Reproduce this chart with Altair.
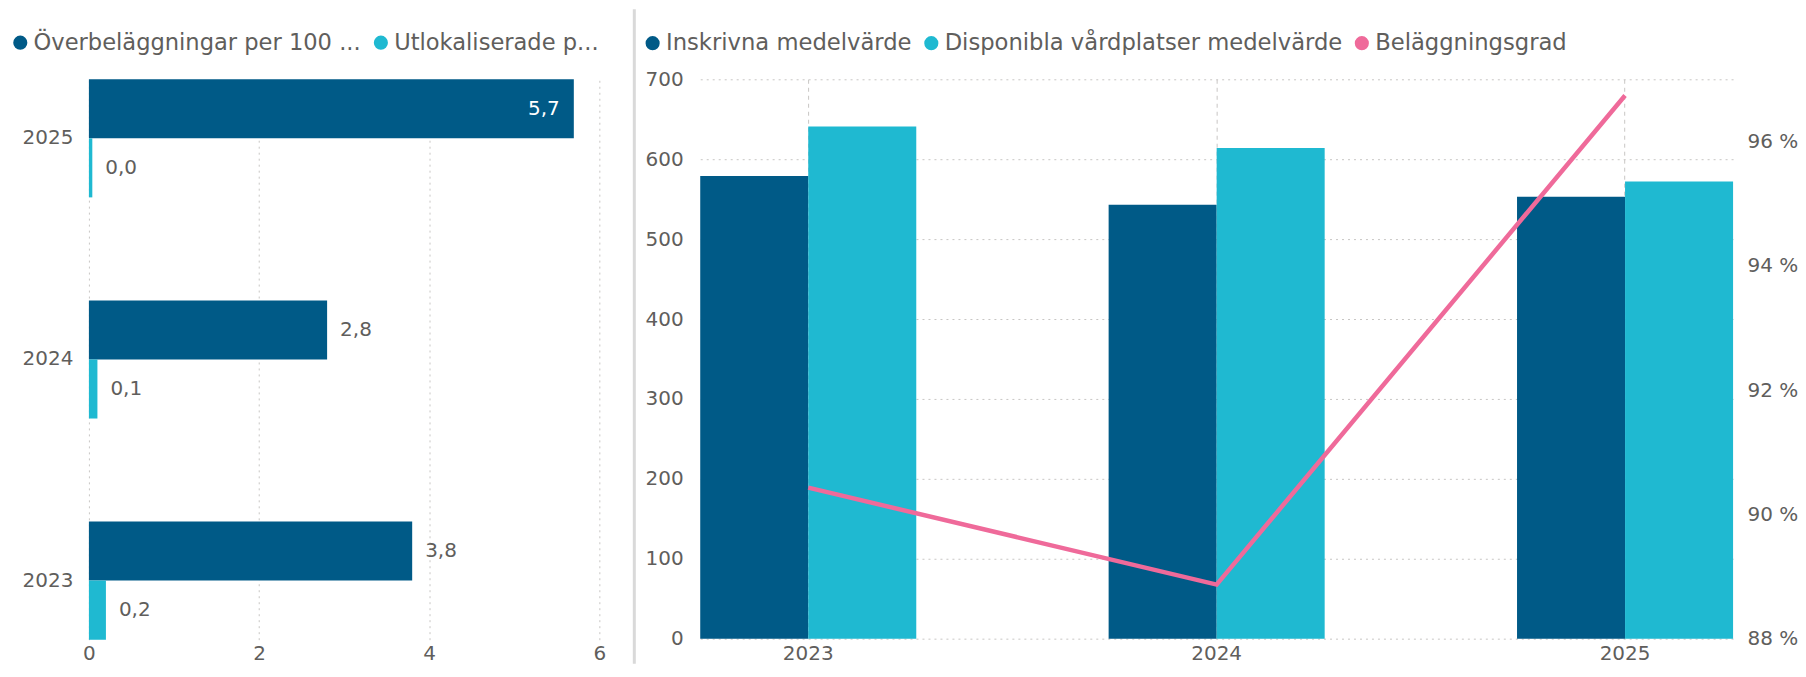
import altair as alt
import pandas as pd

# ---------------- data ----------------
years = ["2023", "2024", "2025"]

left_series = [
    "Överbeläggningar per 100 vårdplatser",
    "Utlokaliserade patienter per 100 vårdplatser",
]
left_legend_text = ["Överbeläggningar per 100 ...", "Utlokaliserade p..."]
overbelaggningar = [3.8, 2.8, 5.7]
utlokaliserade = [0.2, 0.1, 0.04]
left_x_ticks = [0, 2, 4, 6]

right_series = [
    "Inskrivna medelvärde",
    "Disponibla vårdplatser medelvärde",
    "Beläggningsgrad",
]
inskrivna = [579, 543, 553]
disponibla = [641, 614, 572]
belaggningsgrad = [90.43, 88.87, 96.74]
right_left_ticks = [0, 100, 200, 300, 400, 500, 600, 700]
right_right_ticks = [88, 90, 92, 94, 96]

# ---------------- style ----------------
DARK = "#005a87"
LIGHT = "#1fb9d1"
PINK = "#ef6a9a"
TEXT = "#605e5c"
GRID = "#c8c6c4"
SEP = "#d9d9d9"
FONT = "DejaVu Sans"

left_df = pd.DataFrame({
    "year": years * 2,
    "series": [left_series[0]] * 3 + [left_series[1]] * 3,
    "value": overbelaggningar + utlokaliserade,
})
right_bar_df = pd.DataFrame({
    "year": years * 2,
    "series": [right_series[0]] * 3 + [right_series[1]] * 3,
    "value": inskrivna + disponibla,
})
right_line_df = pd.DataFrame({
    "year": years,
    "series": [right_series[2]] * 3,
    "pct": belaggningsgrad,
})
one_row = pd.DataFrame({"k": [0]})


def legend(labels_from, labels_to, lx, ly, size):
    expr = " : ".join(
        f"datum.label == '{a}' ? '{b}'" for a, b in zip(labels_from, labels_to)
    ) + " : datum.label"
    return alt.Legend(
        title=None, orient="none", legendX=lx, legendY=ly, direction="horizontal",
        symbolType="circle", symbolSize=200, symbolStrokeWidth=0,
        labelFont=FONT, labelFontSize=size, labelColor=TEXT, labelLimit=800,
        labelOffset=2, columnPadding=8, padding=0, labelExpr=expr,
    )


# ---------------- left chart ----------------
W_L, H_L = 511, 561
ybase = alt.Y(
    "year:N", sort=years[::-1],
    scale=alt.Scale(paddingInner=0.466, paddingOuter=0),
    axis=alt.Axis(title=None, labelPadding=16, ticks=False, domain=False, grid=False),
)
yoff = alt.YOffset("series:N", sort=left_series, scale=alt.Scale(paddingInner=0, paddingOuter=0))
xl = alt.X(
    "value:Q", scale=alt.Scale(domain=[0, 6], nice=False),
    axis=alt.Axis(title=None, values=left_x_ticks, grid=True, gridDash=[2, 4], ticks=False,
                  domain=False, labelPadding=4, format="d", labelFlush=False),
)
base_l = alt.Chart(left_df).transform_calculate(
    label="replace(format(datum.value, '.1f'), '.', ',')"
).encode(y=ybase, yOffset=yoff, x=xl)

bars_l = base_l.mark_bar().encode(
    color=alt.Color("series:N", scale=alt.Scale(domain=left_series, range=[DARK, LIGHT]),
                    legend=legend(left_series, left_legend_text, -80, -48, 22.6))
)
txt_out = base_l.transform_filter("datum.value <= 5").mark_text(
    align="left", baseline="middle", dx=13, font=FONT, fontSize=20, color=TEXT
).encode(text="label:N")
txt_in = base_l.transform_filter("datum.value > 5").mark_text(
    align="right", baseline="middle", dx=-14, font=FONT, fontSize=20, color="white"
).encode(text="label:N")
ghost_l = alt.Chart(one_row).mark_rule(strokeOpacity=0).encode(
    x=alt.value(0), y=alt.value(-70), y2=alt.value(585)
)
left = alt.layer(ghost_l, bars_l, txt_out, txt_in).properties(width=W_L, height=H_L)

# ---------------- right chart ----------------
W_R, H_R = 1034, 560
xr = alt.X(
    "year:N", sort=years,
    scale=alt.Scale(paddingInner=0.471, paddingOuter=0),
    axis=alt.Axis(title=None, labelAngle=0, ticks=False, domain=False, grid=True,
                  gridDash=[4, 4], labelPadding=4.5),
)
color_r = alt.Color(
    "series:N", scale=alt.Scale(domain=right_series, range=[DARK, LIGHT, PINK]),
    legend=legend(right_series, right_series, -59, -48, 22.7),
)
bars_r = alt.Chart(right_bar_df).mark_bar().encode(
    x=xr,
    xOffset=alt.XOffset("series:N", sort=right_series[:2],
                        scale=alt.Scale(paddingInner=0, paddingOuter=0)),
    y=alt.Y("value:Q", scale=alt.Scale(domain=[0, 700], nice=False),
            axis=alt.Axis(title=None, orient="left", values=right_left_ticks, grid=True,
                          gridDash=[2, 4], ticks=False, domain=False, labelPadding=17)),
    color=color_r,
)
line_r = alt.Chart(right_line_df).mark_line(strokeWidth=4.5).encode(
    x=xr,
    y=alt.Y("pct:Q", scale=alt.Scale(domain=[88, 97], nice=False, zero=False),
            axis=alt.Axis(title=None, orient="right", values=right_right_ticks,
                          labelExpr="datum.value + ' %'", grid=False, ticks=False,
                          domain=False, labelPadding=14)),
    color=color_r,
)
sep = alt.Chart(one_row).mark_rule(color=SEP, strokeWidth=3).encode(
    x=alt.value(-66), y=alt.value(-70), y2=alt.value(585)
)
right = alt.layer(sep, bars_r, line_r).resolve_scale(y="independent").properties(
    width=W_R, height=H_R
)

chart = (
    alt.hconcat(left, right, spacing=26)
    .resolve_scale(color="independent")
    .resolve_legend(color="independent")
    .properties(padding={"left": 1, "top": -1, "right": 0, "bottom": 0})
    .configure_view(stroke=None)
    .configure_axis(labelFont=FONT, labelFontSize=20, labelColor=TEXT, gridColor=GRID,
                    gridWidth=1)
)

chart.save("out.html", embed_options={"renderer": "svg", "actions": False})
